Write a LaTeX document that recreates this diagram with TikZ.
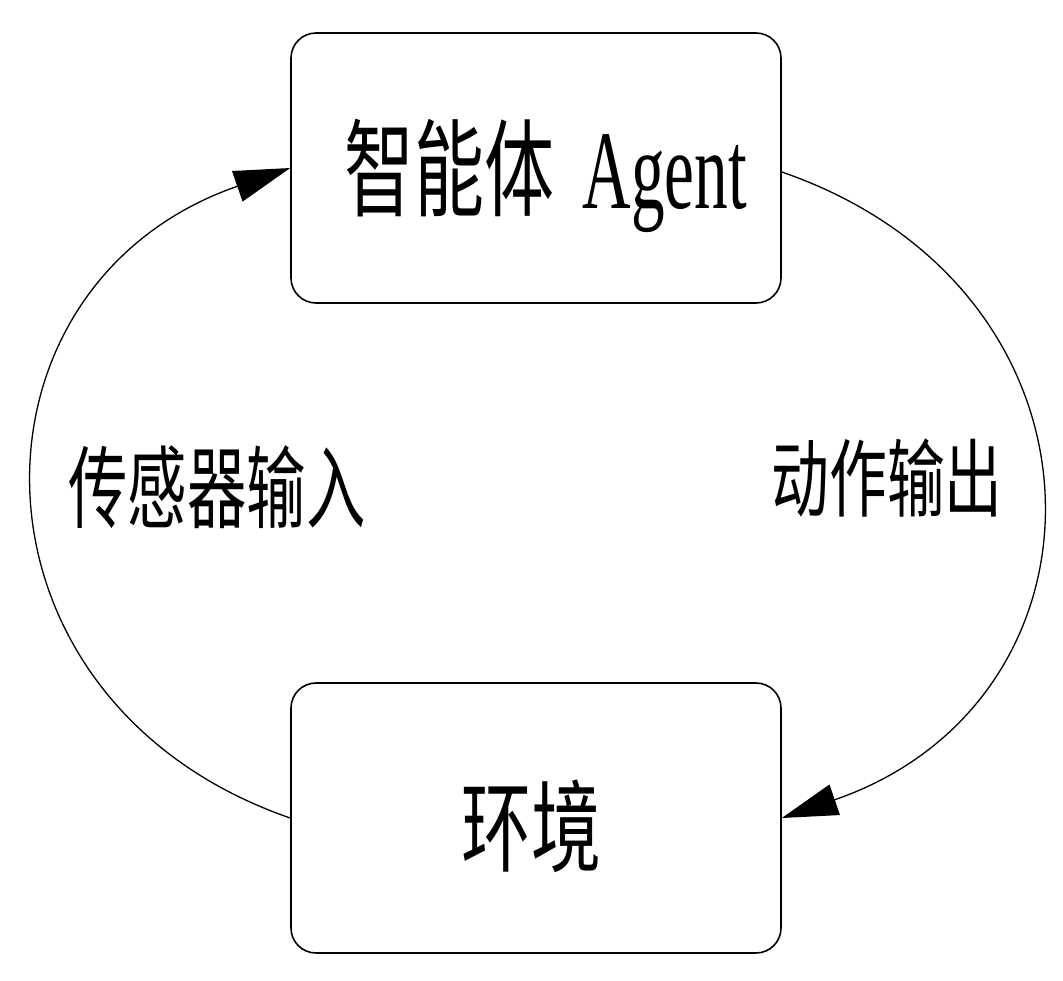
\documentclass[tikz,border=0pt]{standalone}
\usepackage{fontspec}
\setmainfont{Liberation Serif}
\newfontfamily\cjk{Noto Sans CJK SC}
\usetikzlibrary{arrows.meta}
\begin{document}
\begin{tikzpicture}[x=1pt,y=-1pt,
  box/.style={draw, line width=1.6pt, rounded corners=25pt, minimum width=490pt, minimum height=270pt, inner sep=0pt},
  flow/.style={line width=1.3pt, -{Triangle[length=56pt,width=32pt]}},
  lbl/.style={inner sep=0pt, anchor=center}]
\useasboundingbox (0,0) rectangle (1063,980);
\fill[white] (0,0) rectangle (1063,980);
\node[box] (agent) at (536,168) {};
\node[box] (env) at (536,818) {};
\node[lbl] (agenttext) at (546,176) {\scalebox{0.66}[1]{\fontsize{106}{106}\selectfont\cjk 智能体}\hspace{28pt}\scalebox{0.6}[1]{\fontsize{112}{112}\selectfont Agent}};
\node[lbl] (envtext) at (531,826) {\scalebox{0.70}[1]{\fontsize{100}{100}\selectfont\cjk 环境}};
\node[lbl] (intext) at (217,487) {\scalebox{0.66}[1]{\fontsize{90}{90}\selectfont\cjk 传感器输入}};
\node[lbl] (outtext) at (887,478) {\scalebox{0.68}[1]{\fontsize{85}{85}\selectfont\cjk 动作输出}};
\draw[flow] (env.west) .. controls (-48,701) and (-48,285) .. (agent.west);
\draw[flow] ([yshift=-4pt]agent.east) .. controls (1124,290) and (1124,700) .. (env.east);
\end{tikzpicture}
\end{document}
